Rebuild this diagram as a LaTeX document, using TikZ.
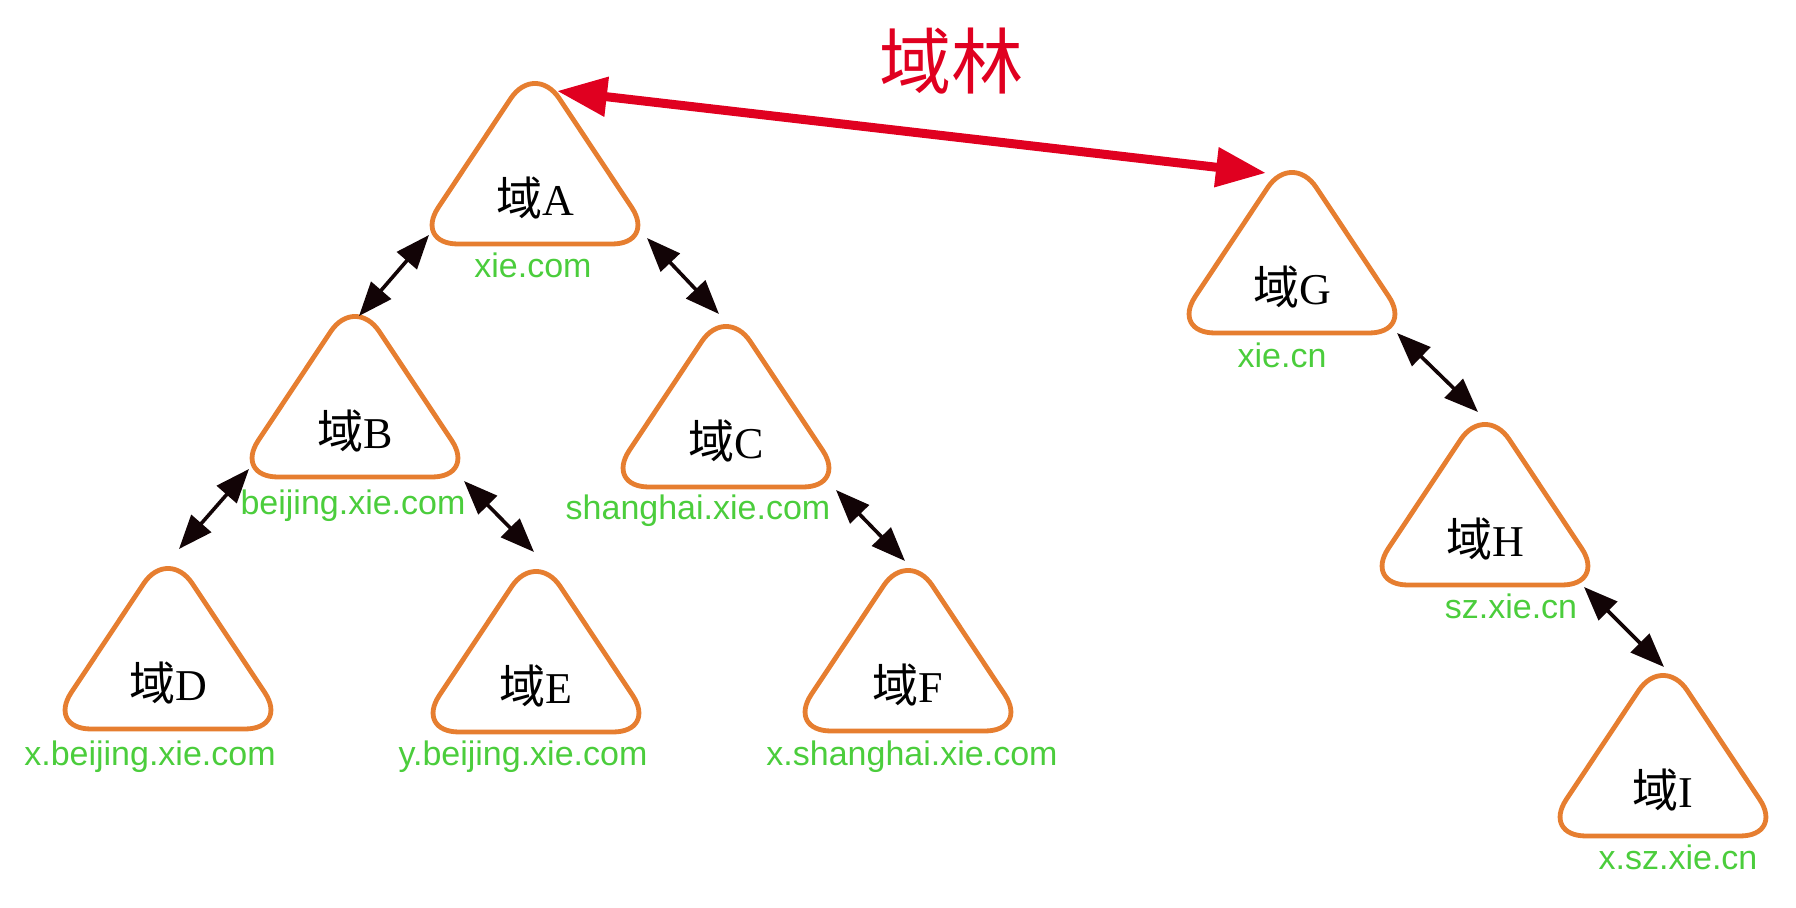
\documentclass[tikz,border=0pt]{standalone}
\usepackage{fontspec}
\setmainfont{Liberation Serif}
\setsansfont{Liberation Sans}
\newfontfamily\cjk{Noto Sans CJK SC}
\usetikzlibrary{arrows.meta}

\definecolor{domorange}{RGB}{230,126,48}
\definecolor{domgreen}{RGB}{75,205,60}
\definecolor{forestred}{RGB}{224,0,32}
\definecolor{linkblack}{RGB}{18,4,6}

\newcommand\dom[1]{{\cjk\fontsize{23pt}{25pt}\selectfont 域}#1}

\begin{document}
\begin{tikzpicture}
		[x=0.5pt, y=-0.5pt,
		tri/.style={draw=domorange, line width=2.4pt, rounded corners=22pt},
		dname/.style={font=\fontsize{22pt}{25pt}\selectfont, inner sep=0pt},
		dlabel/.style={font=\sffamily\fontsize{17pt}{20pt}\selectfont, text=domgreen, anchor=base, inner sep=0pt},
		link/.style={{Triangle[length=17pt,width=13pt]}-{Triangle[length=17pt,width=13pt]}, line width=1.8pt, draw=linkblack},
		trust/.style={{Triangle[length=25pt,width=19pt]}-{Triangle[length=25pt,width=19pt]}, line width=4.5pt, draw=forestred},
		title/.style={font=\cjk\fontsize{36pt}{40pt}\selectfont, text=forestred}]
		\useasboundingbox (0,0) rectangle (1796,908);
		% domains (x/y = middle of the base)
		\foreach \n/\x/\y in {A/535/244, B/355/477, C/726/487, D/168/729, E/536/732, F/908/731, G/1292/333, H/1485/585, I/1663/836}{
			\draw[tri] (\x,\y) ++(-121,0) -- ++(121,-182) -- ++(121,182) -- cycle;
			\node[dname] (\n) at (\x,\y-46) {\dom{\n}};
		}
		\foreach \n/\x/\y/\t in {A/533/278/xie.com, B/353/515/beijing.xie.com, C/698/520/shanghai.xie.com, D/150/766/x.beijing.xie.com, E/523/766/y.beijing.xie.com, F/912/766/x.shanghai.xie.com, G/1282/368/xie.cn, H/1511/619/sz.xie.cn, I/1678/870/x.sz.xie.cn}
			\node[dlabel] (\n-lab) at (\x,\y) {\t};
		\node[title] (forest) at (951,61) {域林};
		% arrow ends
		\coordinate (A-ne) at (557,91);
		\coordinate (G-nw) at (1266,173);
		\coordinate (A-sw) at (429,235);
		\coordinate (A-se) at (647,238);
		\coordinate (B-sw) at (249,469);
		\coordinate (B-se) at (464,481);
		\coordinate (C-se) at (836,490);
		\coordinate (G-se) at (1397,333);
		\coordinate (H-se) at (1584,587);
		\coordinate (B-top) at (359,316);
		\coordinate (C-top) at (719,314);
		\coordinate (D-top) at (179,549);
		\coordinate (E-top) at (534,552);
		\coordinate (F-top) at (905,561);
		\coordinate (H-top) at (1478,412);
		\coordinate (I-top) at (1664,667);
		\draw[trust] (A-ne) -- (G-nw);
		\draw[link] (A-sw) -- (B-top);
		\draw[link] (A-se) -- (C-top);
		\draw[link] (B-sw) -- (D-top);
		\draw[link] (B-se) -- (E-top);
		\draw[link] (C-se) -- (F-top);
		\draw[link] (G-se) -- (H-top);
		\draw[link] (H-se) -- (I-top);
	\end{tikzpicture}
\end{document}
